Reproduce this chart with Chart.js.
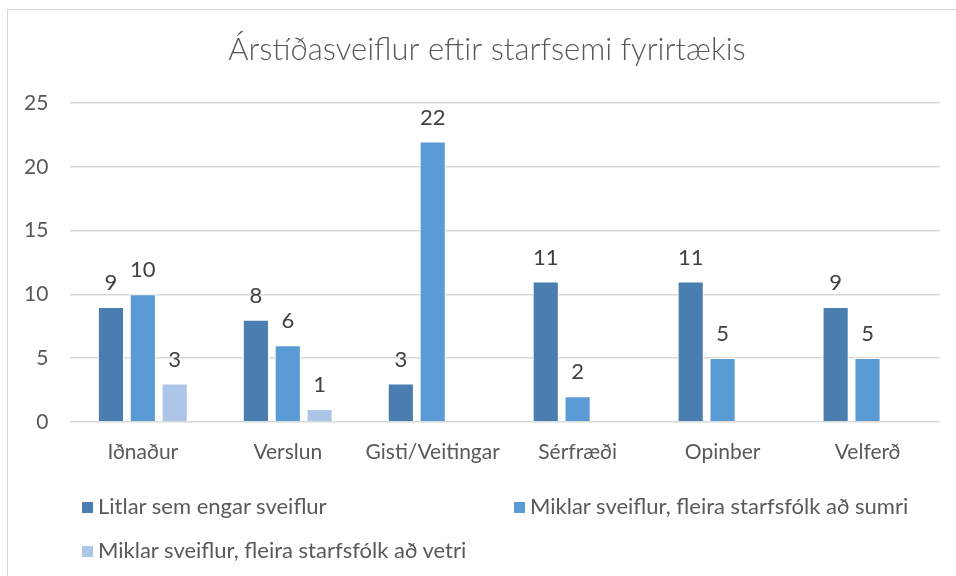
<!DOCTYPE html>
<html>
<head>
<meta charset="utf-8">
<script src="https://cdn.jsdelivr.net/npm/chart.js@4"></script>
<style>
  body { margin: 0; background: #fff; overflow: hidden; }
  #frame { position: absolute; left: 7px; top: 9px; width: 1000px; height: 1000px; border: 1px solid #d9d9d9; }
  #c { position: absolute; left: 0; top: 0; }
  .lg { position: absolute; font-family: Lato, "Noto Sans", sans-serif; font-size: 22px; line-height: 26px; color: #595959; white-space: nowrap; }
  .lg i { display: inline-block; width: 11px; height: 11px; margin-right: 5px; vertical-align: 1px; }
</style>
</head>
<body>
<div id="frame"></div>
<canvas id="c" width="956" height="576"></canvas>
<div id="legend"></div>
<script>
const categories = ['Iðnaður', 'Verslun', 'Gisti/Veitingar', 'Sérfræði', 'Opinber', 'Velferð'];
const seriesNames = ['Litlar sem engar sveiflur', 'Miklar sveiflur, fleira starfsfólk að sumri', 'Miklar sveiflur, fleira starfsfólk að vetri'];
const litlar = [9, 8, 3, 11, 11, 9];
const sumri = [10, 6, 22, 2, 5, 5];
const vetri = [3, 1, 0, 0, 0, 0];
const yTicks = [0, 5, 10, 15, 20, 25];
const colors = ['#4a7eb1', '#5b9bd5', '#adc5e7'];

const FONT = 'Lato, "Noto Sans", sans-serif';

// merkingar ofan á súlum
const valueLabels = {
  id: 'valueLabels',
  afterLayout(chart) {
    // titill er aðeins hægra megin við miðju í fyrirmyndinni
    chart.titleBlock.left += 16;
    chart.titleBlock.right += 16;
  },
  afterDatasetsDraw(chart) {
    const ctx = chart.ctx;
    ctx.save();
    ctx.font = '22px ' + FONT;
    ctx.fillStyle = '#404040';
    ctx.textAlign = 'center';
    ctx.textBaseline = 'bottom';
    chart.data.datasets.forEach((ds, i) => {
      chart.getDatasetMeta(i).data.forEach((bar, j) => {
        const v = ds.data[j];
        if (!v) return;
        ctx.fillText(v, bar.x, bar.y - 13);
      });
    });
    ctx.restore();
  }
};

const datasets = [litlar, sumri, vetri].map((d, i) => ({
  label: seriesNames[i],
  data: d,
  backgroundColor: colors[i],
  borderColor: '#ffffff',
  borderWidth: 1,
  categoryPercentage: 0.66,
  barPercentage: 0.82,
}));

new Chart(document.getElementById('c'), {
  type: 'bar',
  data: { labels: categories, datasets: datasets },
  options: {
    responsive: false,
    animation: false,
    layout: { padding: { left: 2, right: 16, top: 0, bottom: 101 } },
    plugins: {
      legend: { display: false },
      tooltip: { enabled: false },
      title: {
        display: true,
        text: 'Árstíðasveiflur eftir starfsemi fyrirtækis',
        color: '#595959',
        font: { family: FONT, size: 31, weight: '300' },
        padding: { top: 31, bottom: 35 },
      },
    },
    scales: {
      x: {
        grid: { display: false },
        border: { display: false },
        ticks: { color: '#595959', font: { family: FONT, size: 21 }, padding: 10 },
      },
      y: {
        min: 0,
        max: 25,
        afterBuildTicks: (axis) => { axis.ticks = yTicks.map(v => ({ value: v })); },
        grid: { color: '#d9d9d9', lineWidth: 1.5, drawTicks: false },
        border: { display: false },
        ticks: { color: '#595959', font: { family: FONT, size: 21 }, padding: 22 },
      },
    },
  },
  plugins: [valueLabels],
});

// skýringar
const legendPos = [[82, 493], [514, 493], [82, 537]];
const legend = document.getElementById('legend');
seriesNames.forEach((name, i) => {
  const el = document.createElement('div');
  el.className = 'lg';
  el.style.left = legendPos[i][0] + 'px';
  el.style.top = legendPos[i][1] + 'px';
  el.innerHTML = '<i style="background:' + colors[i] + '"></i>' + name;
  legend.appendChild(el);
});
</script>
</body>
</html>
